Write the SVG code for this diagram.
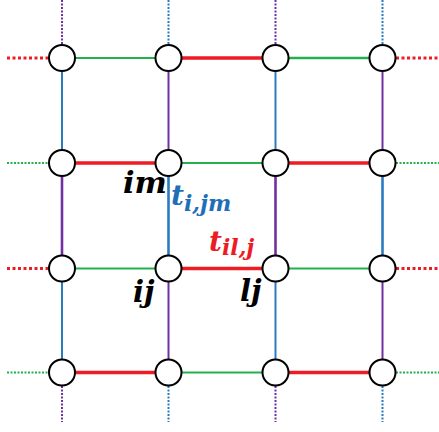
<svg xmlns="http://www.w3.org/2000/svg" width="439" height="432" viewBox="0 0 439 432">
<style>
.r{stroke:#ed1c24;fill:none}
.g{stroke:#22b14c;fill:none}
.b{stroke:#2b7bbf;fill:none}
.p{stroke:#7030a0;fill:none}
.thin{stroke-width:2}
.mid{stroke-width:2.6}
.thick{stroke-width:3.4}
.dotR{stroke-width:3;stroke-dasharray:3 2.5}
.dot{stroke-width:2;stroke-dasharray:2 1.5}
.node{fill:#fff;stroke:#000;stroke-width:2}
.lbl{font-family:"DejaVu Serif",serif;font-style:italic;font-weight:bold;font-size:29px;fill:#000}
.t{font-family:"DejaVu Serif",serif;font-style:italic;font-weight:bold}
</style>
<rect width="439" height="432" fill="#fff"/>
<g id="connectors">
<!-- row 1 -->
<line class="r dotR" x1="7" y1="58" x2="49" y2="58"/>
<line class="g thin" x1="62" y1="58" x2="168.5" y2="58"/>
<line class="r thick" x1="168.5" y1="58" x2="275.5" y2="58"/>
<line class="g mid" x1="275.5" y1="58" x2="382.5" y2="58"/>
<line class="r dotR" x1="396" y1="58" x2="439" y2="58"/>
<!-- row 2 -->
<line class="g dot" x1="7" y1="163" x2="49" y2="163"/>
<line class="r thick" x1="62" y1="163" x2="168.5" y2="163"/>
<line class="g thin" x1="168.5" y1="163" x2="275.5" y2="163"/>
<line class="r thick" x1="275.5" y1="163" x2="382.5" y2="163"/>
<line class="g dot" x1="396" y1="163" x2="439" y2="163"/>
<!-- row 3 -->
<line class="r dotR" x1="7" y1="268.5" x2="49" y2="268.5"/>
<line class="g thin" x1="62" y1="268.5" x2="168.5" y2="268.5"/>
<line class="r thick" x1="168.5" y1="268.5" x2="275.5" y2="268.5"/>
<line class="g thin" x1="275.5" y1="268.5" x2="382.5" y2="268.5"/>
<line class="r dotR" x1="396" y1="268.5" x2="439" y2="268.5"/>
<!-- row 4 -->
<line class="g dot" x1="7" y1="372.5" x2="49" y2="372.5"/>
<line class="r thick" x1="62" y1="372.5" x2="168.5" y2="372.5"/>
<line class="g thin" x1="168.5" y1="372.5" x2="275.5" y2="372.5"/>
<line class="r thick" x1="275.5" y1="372.5" x2="382.5" y2="372.5"/>
<line class="g dot" x1="396" y1="372.5" x2="439" y2="372.5"/>
<!-- col 1 -->
<line class="p dot" x1="62" y1="0" x2="62" y2="45"/>
<line class="b thin" x1="62" y1="58" x2="62" y2="163"/>
<line class="p mid" x1="62" y1="163" x2="62" y2="268.5"/>
<line class="b thin" x1="62" y1="268.5" x2="62" y2="372.5"/>
<line class="p dot" x1="62" y1="386" x2="62" y2="422"/>
<!-- col 2 -->
<line class="b dot" x1="168.5" y1="0" x2="168.5" y2="45"/>
<line class="p thin" x1="168.5" y1="58" x2="168.5" y2="163"/>
<line class="b mid" x1="168.5" y1="163" x2="168.5" y2="268.5"/>
<line class="p thin" x1="168.5" y1="268.5" x2="168.5" y2="372.5"/>
<line class="b dot" x1="168.5" y1="386" x2="168.5" y2="422"/>
<!-- col 3 -->
<line class="p dot" x1="275.5" y1="0" x2="275.5" y2="45"/>
<line class="b thin" x1="275.5" y1="58" x2="275.5" y2="163"/>
<line class="p mid" x1="275.5" y1="163" x2="275.5" y2="268.5"/>
<line class="b thin" x1="275.5" y1="268.5" x2="275.5" y2="372.5"/>
<line class="p dot" x1="275.5" y1="386" x2="275.5" y2="422"/>
<!-- col 4 -->
<line class="b dot" x1="382.5" y1="0" x2="382.5" y2="45"/>
<line class="p thin" x1="382.5" y1="58" x2="382.5" y2="163"/>
<line class="b mid" x1="382.5" y1="163" x2="382.5" y2="268.5"/>
<line class="p thin" x1="382.5" y1="268.5" x2="382.5" y2="372.5"/>
<line class="b dot" x1="382.5" y1="386" x2="382.5" y2="422"/>
</g>
<g id="nodes">
<g id="n11"><circle class="node" cx="62" cy="58" r="13"/></g>
<g id="n12"><circle class="node" cx="168.5" cy="58" r="13"/></g>
<g id="n13"><circle class="node" cx="275.5" cy="58" r="13"/></g>
<g id="n14"><circle class="node" cx="382.5" cy="58" r="13"/></g>
<g id="n21"><circle class="node" cx="62" cy="163" r="13"/></g>
<g id="n22"><circle class="node" cx="168.5" cy="163" r="13"/></g>
<g id="n23"><circle class="node" cx="275.5" cy="163" r="13"/></g>
<g id="n24"><circle class="node" cx="382.5" cy="163" r="13"/></g>
<g id="n31"><circle class="node" cx="62" cy="268.5" r="13"/></g>
<g id="n32"><circle class="node" cx="168.5" cy="268.5" r="13"/></g>
<g id="n33"><circle class="node" cx="275.5" cy="268.5" r="13"/></g>
<g id="n34"><circle class="node" cx="382.5" cy="268.5" r="13"/></g>
<g id="n41"><circle class="node" cx="62" cy="372.5" r="13"/></g>
<g id="n42"><circle class="node" cx="168.5" cy="372.5" r="13"/></g>
<g id="n43"><circle class="node" cx="275.5" cy="372.5" r="13"/></g>
<g id="n44"><circle class="node" cx="382.5" cy="372.5" r="13"/></g>
</g>
<g id="labels">
<text class="lbl" x="123" y="193" textLength="44" lengthAdjust="spacingAndGlyphs">im</text>
<text class="lbl" x="133" y="302">ij</text>
<text class="lbl" x="240" y="301">lj</text>
<text class="t" fill="#1f6fb8" x="171" y="205" font-size="28">t<tspan font-size="22" dy="6">i,jm</tspan></text>
<text class="t" fill="#ed1c24" x="209" y="251" font-size="28">t<tspan font-size="22" dy="4">il,j</tspan></text>
</g>
</svg>
